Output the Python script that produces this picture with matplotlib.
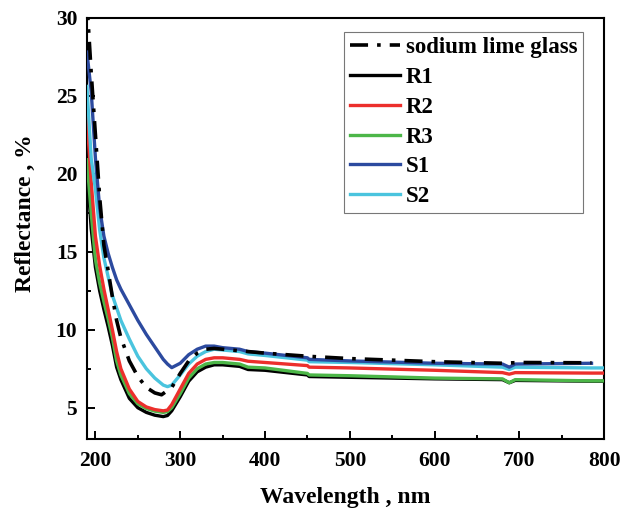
import matplotlib
matplotlib.use('Agg')
import matplotlib.pyplot as plt

plt.rcParams['font.family'] = ['Liberation Serif', 'DejaVu Serif']
plt.rcParams['font.weight'] = 'bold'

# Reflectance spectra (%), sampled by wavelength (nm)
wl = [190, 195, 200, 205, 210, 215, 220, 225, 230, 240, 250, 260, 270, 280,
      285, 290, 300, 310, 320, 330, 340, 350, 360, 370, 380, 400, 450, 452,
      500, 600, 680, 688, 695, 785, 800]

r1 = [20.5, 16.5, 14.0, 12.5, 11.3, 10.2, 9.0, 7.6, 6.8, 5.6, 5.0, 4.7, 4.52, 4.43,
      4.5, 4.8, 5.7, 6.7, 7.3, 7.6, 7.75, 7.75, 7.7, 7.65, 7.45, 7.4, 7.1, 7.0,
      6.95, 6.85, 6.8, 6.6, 6.75, 6.7, 6.7]
r2 = [23.6, 19.5, 16.0, 14.1, 12.6, 11.3, 10.0, 8.6, 7.5, 6.2, 5.4, 5.05, 4.88, 4.8,
      4.85, 5.2, 6.2, 7.2, 7.8, 8.1, 8.2, 8.2, 8.15, 8.1, 7.98, 7.9, 7.7, 7.6,
      7.55, 7.4, 7.25, 7.15, 7.25, 7.22, 7.22]
r3 = [20.9, 17.5, 14.5, 13.0, 11.8, 10.7, 9.5, 8.0, 7.1, 5.9, 5.25, 4.95, 4.78, 4.7,
      4.75, 5.0, 5.9, 6.9, 7.5, 7.8, 7.9, 7.9, 7.85, 7.8, 7.6, 7.55, 7.2, 7.1,
      7.05, 6.9, 6.85, 6.6, 6.8, 6.72, 6.72]
s1 = [27.8, 25.3, 21.0, 17.8, 16.0, 14.9, 14.0, 13.2, 12.6, 11.6, 10.6, 9.7, 8.9, 8.1,
      7.8, 7.57, 7.85, 8.4, 8.75, 8.95, 8.95, 8.85, 8.8, 8.75, 8.6, 8.5, 8.2, 8.1,
      8.0, 7.85, 7.8, 7.6, 7.8, 7.85]
s2 = [25.6, 21.0, 19.0, 16.4, 14.6, 13.4, 12.2, 11.4, 10.6, 9.4, 8.3, 7.5, 6.9, 6.45,
      6.35, 6.45, 7.1, 7.8, 8.3, 8.6, 8.75, 8.7, 8.65, 8.6, 8.45, 8.35, 8.05, 7.95,
      7.9, 7.75, 7.6, 7.45, 7.6, 7.55, 7.55]

wl_glass = [190, 195, 200, 205, 210, 215, 220, 225, 230, 240, 250, 260, 270, 278,
            290, 300, 310, 320, 330, 340, 350, 360, 370, 380, 400, 450, 500, 600,
            680, 700, 785]
glass = [31.0, 26.5, 22.5, 18.5, 15.4, 13.8, 12.1, 10.6, 9.5, 8.0, 7.0, 6.3, 5.95, 5.83,
         6.3, 7.2, 8.0, 8.5, 8.75, 8.8, 8.75, 8.7, 8.65, 8.6, 8.5, 8.3, 8.15, 7.95,
         7.85, 7.9, 7.88]

fig = plt.figure(figsize=(6.21, 5.08), dpi=100)
ax = fig.add_axes([0.140, 0.136, 0.833, 0.829])

lw = 2.4
h_r1, = ax.plot(wl, r1, color='black', lw=lw, label='R1', zorder=2)
h_r3, = ax.plot(wl, r3, color='#4cb648', lw=lw, label='R3', zorder=3)
h_r2, = ax.plot(wl, r2, color='#ec2f2c', lw=lw, label='R2', zorder=4)
h_s2, = ax.plot(wl, s2, color='#4ac4de', lw=lw, label='S2', zorder=5)
h_s1, = ax.plot(wl[:len(s1)], s1, color='#2c4a9f', lw=lw, label='S1', zorder=6)
h_gl, = ax.plot(wl_glass, glass, color='black', lw=2.6, ls=(0, (5, 2.5, 1, 2.5)),
                label='sodium lime glass', zorder=7)

ax.set_xlim(190, 800)
ax.set_ylim(3, 30)
ax.set_xticks([200, 300, 400, 500, 600, 700, 800])
ax.set_xticks([250, 350, 450, 550, 650, 750], minor=True)
ax.set_yticks([5, 10, 15, 20, 25, 30])
ax.set_yticks([7.5, 12.5, 17.5, 22.5, 27.5], minor=True)

ax.tick_params(which='both', direction='in', width=1.4, labelsize=15.5)
ax.tick_params(which='major', length=6)
ax.tick_params(which='minor', length=3)
ax.tick_params(axis='x', pad=9)
ax.tick_params(axis='y', pad=7)
for s in ax.spines.values():
    s.set_linewidth(1.5)

ax.set_xlabel('Wavelength , nm', fontsize=17, fontweight='bold', labelpad=11)
ax.set_ylabel('Reflectance , %', fontsize=17, fontweight='bold')
ax.yaxis.set_label_coords(-0.098, 0.537)

leg = ax.legend(handles=[h_gl, h_r1, h_r2, h_r3, h_s1, h_s2],
                loc='upper right', bbox_to_anchor=(0.959, 0.967), borderaxespad=0,
                prop={'weight': 'bold', 'size': 16.5},
                fancybox=False, edgecolor='#777777', framealpha=1,
                handlelength=2.2, handletextpad=0.25, borderpad=0.25,
                labelspacing=0.38)
leg.get_frame().set_linewidth(0.8)

fig.savefig('out.png', dpi=100)
